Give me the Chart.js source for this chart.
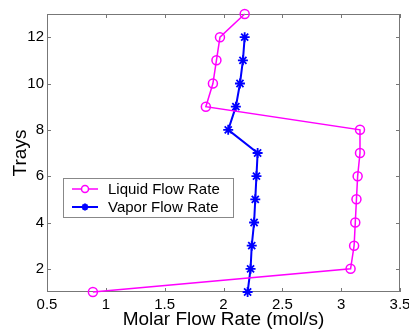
<!DOCTYPE html>
<html>
<head>
<meta charset="utf-8">
<script src="https://cdn.jsdelivr.net/npm/chart.js@4"></script>
<style>
  html, body { margin: 0; padding: 0; background: #fff; }
  canvas { display: block; }
</style>
</head>
<body>
<canvas id="c" width="409" height="329"></canvas>
<script>
const trays = [1, 2, 3, 4, 5, 6, 7, 8, 9, 10, 11, 12, 13];
const liquidFlow = [0.89, 3.08, 3.11, 3.12, 3.13, 3.14, 3.16, 3.16, 1.85, 1.91, 1.94, 1.97, 2.18];
const vaporTrays = [1, 2, 3, 4, 5, 6, 7, 8, 9, 10, 11, 12];
const vaporFlow = [2.205, 2.23, 2.24, 2.26, 2.27, 2.28, 2.29, 2.04, 2.105, 2.14, 2.165, 2.18];
const xTicks = [0.5, 1, 1.5, 2, 2.5, 3, 3.5];
const yTicks = [2, 4, 6, 8, 10, 12];

const FONT = "'Liberation Sans', Arial, sans-serif";

// matlab style box with inward ticks
const frame = {
  id: "frame",
  beforeDatasetsDraw(chart) {
    const { ctx, chartArea: a, scales } = chart;
    ctx.save();
    ctx.strokeStyle = "#777";
    ctx.lineWidth = 1;
    ctx.strokeRect(a.left + 0.5, a.top + 0.5, a.right - a.left - 1, a.bottom - a.top - 1);
    ctx.beginPath();
    xTicks.forEach(v => {
      const x = Math.round(scales.x.getPixelForValue(v)) + 0.5;
      ctx.moveTo(x, a.bottom); ctx.lineTo(x, a.bottom - 4);
      ctx.moveTo(x, a.top); ctx.lineTo(x, a.top + 4);
    });
    yTicks.forEach(v => {
      const y = Math.round(scales.y.getPixelForValue(v)) + 0.5;
      ctx.moveTo(a.left, y); ctx.lineTo(a.left + 4, y);
      ctx.moveTo(a.right, y); ctx.lineTo(a.right - 4, y);
    });
    ctx.stroke();
    ctx.restore();
  }
};

// legend box inside the plot
const boxLegend = {
  id: "boxLegend",
  afterDraw(chart) {
    const ctx = chart.ctx;
    const x0 = 63, y0 = 178, w = 170, h = 39;
    ctx.save();
    ctx.fillStyle = "#fff";
    ctx.fillRect(x0, y0, w, h);
    ctx.strokeStyle = "#888";
    ctx.lineWidth = 1;
    ctx.strokeRect(x0 + 0.5, y0 + 0.5, w, h);
    chart.data.datasets.forEach((ds, i) => {
      const y = y0 + 11 + i * 18;
      ctx.strokeStyle = ds.borderColor;
      ctx.lineWidth = ds.borderWidth;
      ctx.beginPath();
      ctx.moveTo(72, y); ctx.lineTo(98, y);
      ctx.stroke();
      Chart.helpers.drawPoint(ctx, {
        pointStyle: ds.pointStyle, radius: 3.5, rotation: 0, borderWidth: 1.5
      }, 85, y);
      ctx.fillStyle = "#000";
      ctx.font = "15px " + FONT;
      ctx.textBaseline = "middle";
      ctx.fillText(ds.label, 108, y + 1);
    });
    ctx.restore();
  }
};

new Chart(document.getElementById("c"), {
  type: "scatter",
  data: {
    datasets: [
      {
        label: "Liquid Flow Rate",
        data: trays.map((t, i) => ({ x: liquidFlow[i], y: t })),
        showLine: true,
        clip: false,
        borderColor: "#ff00ff",
        backgroundColor: "rgba(0,0,0,0)",
        borderWidth: 1.5,
        pointStyle: "circle",
        pointRadius: 4.5,
        pointBorderWidth: 1.5
      },
      {
        label: "Vapor Flow Rate",
        data: vaporTrays.map((t, i) => ({ x: vaporFlow[i], y: t })),
        showLine: true,
        clip: false,
        borderColor: "#0000ff",
        backgroundColor: "rgba(0,0,0,0)",
        borderWidth: 2,
        pointStyle: "star",
        pointRadius: 5,
        pointBorderWidth: 1.8
      }
    ]
  },
  options: {
    responsive: false,
    animation: false,
    layout: { padding: { top: 14, right: 9, left: 0, bottom: 0 } },
    plugins: { legend: { display: false }, tooltip: { enabled: false } },
    scales: {
      x: {
        type: "linear",
        min: 0.5,
        max: 3.5,
        afterBuildTicks: s => { s.ticks = xTicks.map(v => ({ value: v })); },
        afterFit: s => { s.height = 37; s.paddingLeft = 0; s.paddingRight = 0; },
        grid: { display: false, drawTicks: false },
        border: { display: false },
        ticks: { color: "#000", font: { family: FONT, size: 15 }, padding: 4, callback: v => String(v) },
        title: { display: true, text: "Molar Flow Rate (mol/s)", color: "#000",
                 font: { family: FONT, size: 19, lineHeight: 1 }, padding: 0 }
      },
      y: {
        type: "linear",
        min: 1,
        max: 13,
        afterBuildTicks: s => { s.ticks = yTicks.map(v => ({ value: v })); },
        afterFit: s => { s.width = 47; s.paddingTop = 0; s.paddingBottom = 0; },
        grid: { display: false, drawTicks: false },
        border: { display: false },
        ticks: { color: "#000", font: { family: FONT, size: 15 }, padding: 3 },
        title: { display: true, text: "Trays", color: "#000",
                 font: { family: FONT, size: 19, lineHeight: 1 }, padding: 11 }
      }
    }
  },
  plugins: [frame, boxLegend]
});
</script>
</body>
</html>
